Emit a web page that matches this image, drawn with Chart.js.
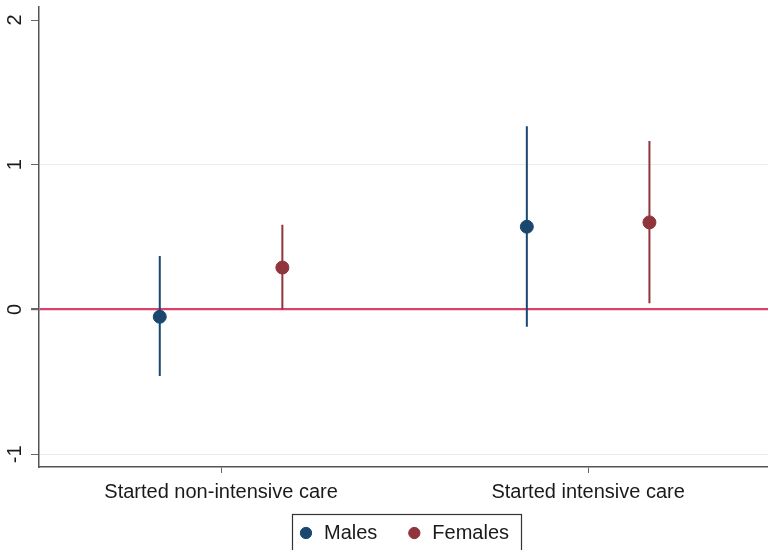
<!DOCTYPE html>
<html>
<head>
<meta charset="utf-8">
<script src="https://cdn.jsdelivr.net/npm/chart.js@4.4.1/dist/chart.umd.min.js"></script>
<style>
  html, body { margin: 0; padding: 0; background: #fff; overflow: hidden; }
  #wrap { width: 768px; height: 550px; position: relative; }
</style>
</head>
<body>
<div id="wrap"><canvas id="c"></canvas></div>
<script>
const categories = ['Started non-intensive care', 'Started intensive care'];
const seriesNames = ['Males', 'Females'];
const malesEst = [-0.05, 0.572];
const malesLo = [-0.46, -0.119];
const malesHi = [0.37, 1.267];
const femalesEst = [0.29, 0.602];
const femalesLo = [0.0, 0.043];
const femalesHi = [0.585, 1.164];
const yTicks = [-1, 0, 1, 2];

const catPos = categories.map((c, i) => i + 1);
const groupOffset = 0.167;
const maleColor = '#1a476f';
const femaleColor = '#90353b';

// linear scale whose tick labels are not clipped to the axis box
class FreeLabelLinear extends Chart.LinearScale {
  _computeLabelArea() { return undefined; }
}
FreeLabelLinear.id = 'freeLinear';
FreeLabelLinear.defaults = Chart.LinearScale.defaults;
Chart.register(FreeLabelLinear);

function pts(est, off) {
  return est.map((v, i) => ({ x: catPos[i] + off, y: v }));
}
function ci(lo, hi, off) {
  const out = [];
  lo.forEach((l, i) => {
    out.push({ x: catPos[i] + off, y: l });
    out.push({ x: catPos[i] + off, y: hi[i] });
    out.push({ x: catPos[i] + off, y: null });
  });
  return out;
}

const legendBox = {
  id: 'legendBox',
  afterDraw(chart) {
    const lg = chart.legend;
    if (!lg || !lg.legendHitBoxes || !lg.legendHitBoxes.length) return;
    const b = lg.legendHitBoxes;
    const left = Math.min(...b.map(h => h.left)) - 6;
    const right = Math.max(...b.map(h => h.left + h.width)) + 12;
    const top = Math.min(...b.map(h => h.top)) - 9;
    const ctx = chart.ctx;
    ctx.save();
    ctx.strokeStyle = '#333';
    ctx.lineWidth = 1.2;
    ctx.strokeRect(Math.round(left) + 0.5, Math.round(top) + 0.5, Math.round(right - left), 80);
    ctx.restore();
  }
};

Chart.defaults.font.family = '"Liberation Sans", Arial, sans-serif';
Chart.defaults.color = '#222';

new Chart(document.getElementById('c'), {
  type: 'scatter',
  data: {
    datasets: [
      { label: seriesNames[0], data: pts(malesEst, -groupOffset), backgroundColor: maleColor, borderColor: maleColor, pointRadius: 6.5, pointHoverRadius: 6.5, pointStyle: 'circle', order: 0 },
      { label: seriesNames[1], data: pts(femalesEst, groupOffset), backgroundColor: femaleColor, borderColor: femaleColor, pointRadius: 6.5, pointHoverRadius: 6.5, pointStyle: 'circle', order: 1 },
      { label: 'ci_m', type: 'line', data: ci(malesLo, malesHi, -groupOffset), borderColor: maleColor, borderWidth: 2, pointRadius: 0, spanGaps: false, order: 2 },
      { label: 'ci_f', type: 'line', data: ci(femalesLo, femalesHi, groupOffset), borderColor: femaleColor, borderWidth: 2, pointRadius: 0, spanGaps: false, order: 3 }
    ]
  },
  options: {
    responsive: true,
    maintainAspectRatio: false,
    animation: false,
    layout: { autoPadding: false, padding: { top: 7, right: 0, left: 0, bottom: -3 } },
    plugins: {
      tooltip: { enabled: false },
      legend: {
        position: 'bottom',
        fullSize: false,
        labels: {
          filter: (item) => item.datasetIndex < 2,
          usePointStyle: true,
          pointStyle: 'circle',
          boxWidth: 16,
          boxHeight: 8,
          padding: 29,
          font: { size: 20 },
          color: '#1a1a1a'
        }
      }
    },
    scales: {
      x: {
        type: 'freeLinear',
        min: 0.504,
        max: 2.49,
        afterBuildTicks: (s) => { s.ticks = catPos.map(v => ({ value: v })); },
        afterFit: (s) => { s.height = 27; s.paddingLeft = 0; s.paddingRight = 0; },
        ticks: {
          callback: (v) => categories[catPos.indexOf(v)] || '',
          font: { size: 20 },
          color: '#1a1a1a',
          padding: 7,
          maxRotation: 0,
          minRotation: 0
        },
        grid: { drawOnChartArea: false, drawTicks: true, tickLength: 6, tickColor: '#666' },
        border: { color: '#555', width: 1.5 }
      },
      y: {
        type: 'linear',
        min: -1.088,
        max: 2.09,
        afterBuildTicks: (s) => { s.ticks = yTicks.map(v => ({ value: v })); },
        afterFit: (s) => { s.width = 39; s.paddingTop = 0; s.paddingBottom = 0; },
        ticks: {
          font: { size: 20 },
          color: '#1a1a1a',
          minRotation: 90,
          maxRotation: 90,
          crossAlign: 'center',
          padding: 7,
          callback: (v) => String(v)
        },
        grid: {
          color: (ctx) => {
            if (!ctx.tick) return 'rgba(0,0,0,0)';
            if (ctx.tick.value === 0) return '#d8436b';
            if (ctx.tick.value === 2) return 'rgba(0,0,0,0)';
            return '#e2eef1';
          },
          lineWidth: (ctx) => ctx.tick && ctx.tick.value === 0 ? 2.2 : 1,
          tickColor: '#666',
          tickLength: 8
        },
        border: { color: '#555', width: 1.5 }
      }
    }
  },
  plugins: [legendBox]
});
</script>
</body>
</html>
